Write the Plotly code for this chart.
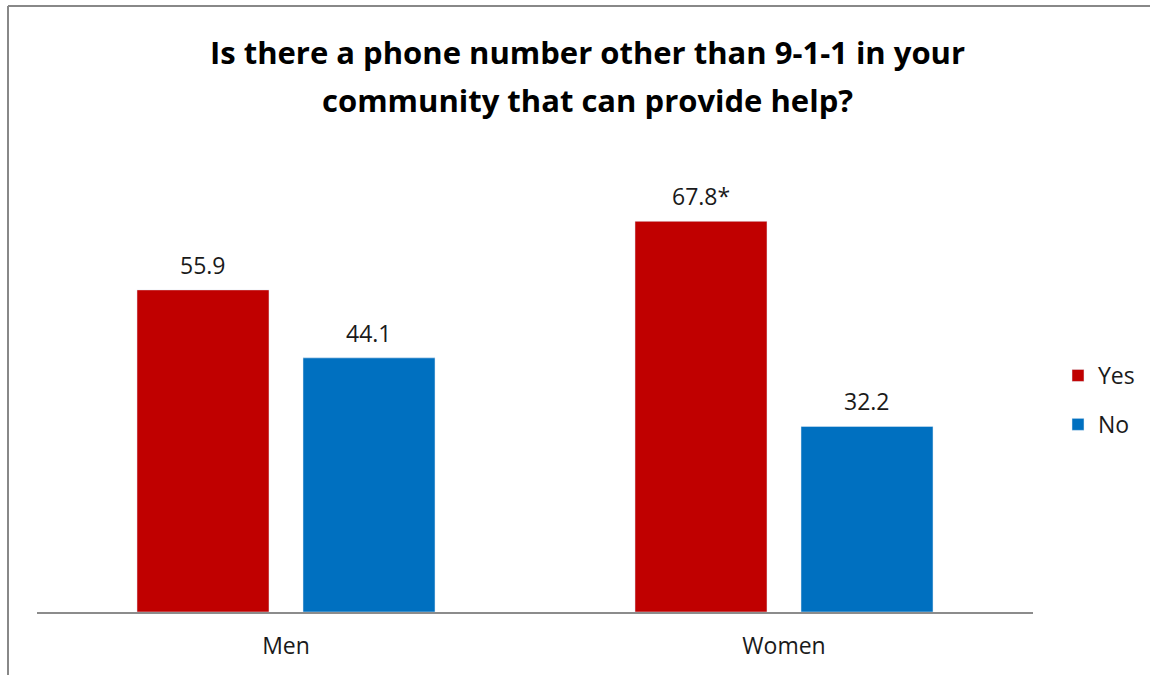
import plotly.graph_objects as go

categories = ["Men", "Women"]
yes_values = [55.9, 67.8]
no_values = [44.1, 32.2]
yes_labels = ["55.9", "67.8*"]
no_labels = ["44.1", "32.2"]
title_lines = ["Is there a phone number other than 9-1-1 in your",
               "community that can provide help?"]

FONT = "Open Sans, Calibri, Carlito, sans-serif"
TXT = "#1a1a1a"

fig = go.Figure()
fig.add_trace(go.Bar(name="Yes", x=categories, y=yes_values,
                     marker_color="#C00000", legendgroup="a"))
fig.add_trace(go.Bar(name="No", x=categories, y=no_values,
                     marker_color="#0070C0", legendgroup="b"))

L, R, T, B = 37, 117, 151, 63
W, H = 1150, 675
pw, ph = W - L - R, H - T - B

def px(x):
    return (x - L) / pw

def py(y):
    return (H - B - y) / ph

fig.update_layout(
    width=W, height=H,
    margin=dict(l=L, r=R, t=T, b=B, autoexpand=False),
    paper_bgcolor="white", plot_bgcolor="white",
    barmode="group", bargap=0.3333, bargroupgap=0.2048,
    font=dict(family=FONT, size=23, color=TXT),
    showlegend=True,
    legend=dict(x=px(1058), y=py(400), xanchor="left", yanchor="middle",
                font=dict(size=23, family=FONT, color=TXT),
                traceorder="grouped", tracegroupgap=16,
                itemwidth=30),
    xaxis=dict(showline=True, linecolor="#8c8c8c", linewidth=2,
               ticks="", ticklabelstandoff=12,
               tickfont=dict(size=23, family=FONT, color=TXT),
               showgrid=False),
    yaxis=dict(range=[0, 80], visible=False, showgrid=False),
)

# data labels above bars
for labels, vals, shift in [(yes_labels, yes_values, -83), (no_labels, no_values, 83)]:
    for c, v, t in zip(categories, vals, labels):
        fig.add_annotation(x=c, y=v, text=t, xref="x", yref="y",
                           xshift=shift, yshift=25, showarrow=False,
                           xanchor="center", yanchor="middle",
                           font=dict(size=23, family=FONT, color=TXT))

# title (two lines, Excel-like spacing)
for line, yc in zip(title_lines, [52, 100]):
    fig.add_annotation(text="<b>" + line + "</b>", xref="paper", yref="paper",
                       x=px(587), y=py(yc), xanchor="center", yanchor="middle",
                       showarrow=False,
                       font=dict(size=31, family=FONT, color="#000000"))

# chart frame border (left and top edges visible)
fig.add_shape(type="line", xref="paper", yref="paper",
              x0=px(8), x1=px(8), y0=py(6), y1=py(H + 5),
              line=dict(color="#888888", width=2))
fig.add_shape(type="line", xref="paper", yref="paper",
              x0=px(8), x1=px(W + 5), y0=py(6), y1=py(6),
              line=dict(color="#888888", width=2))

fig.write_html("out.html", config={"displayModeBar": False},
               post_script="document.body.style.margin='0';")
